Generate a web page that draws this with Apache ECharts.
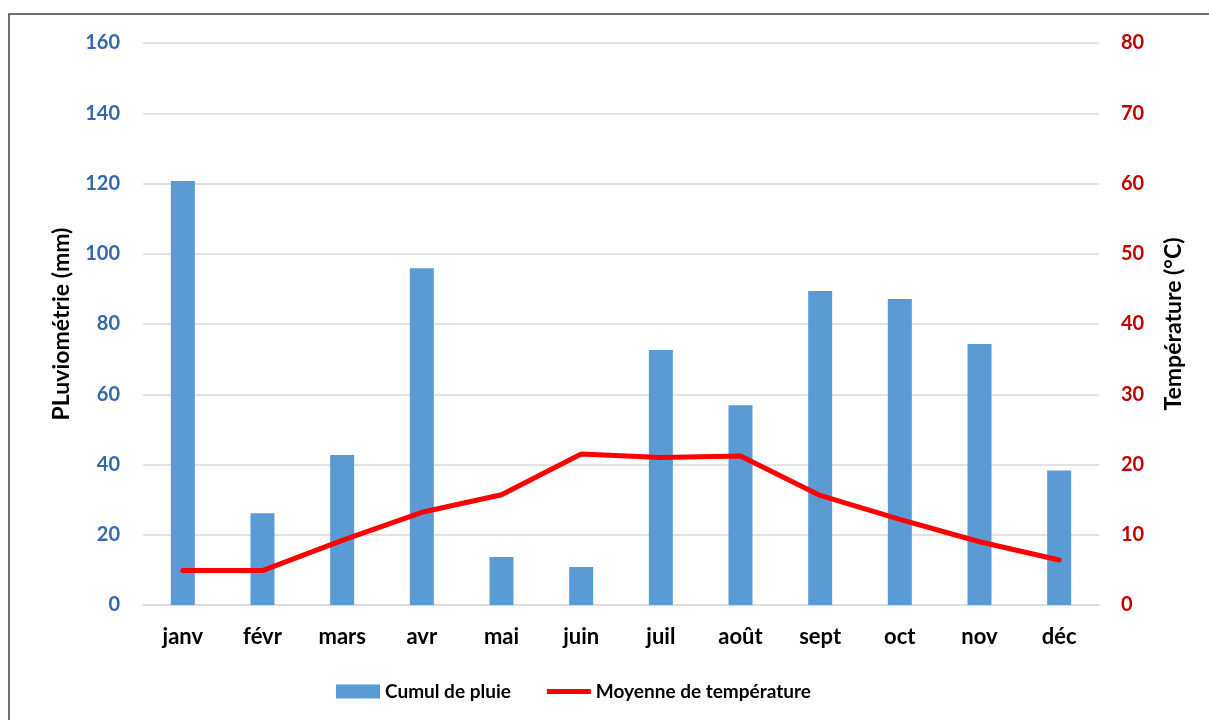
<!DOCTYPE html>
<html><head><meta charset="utf-8">
<script src="https://cdn.jsdelivr.net/npm/echarts@6/dist/echarts.min.js"></script>
<style>html,body{margin:0;padding:0;background:#fff}#c{width:1209px;height:720px}</style>
</head><body><div id="c"></div>
<script>
const categories = ['janv','févr','mars','avr','mai','juin','juil','août','sept','oct','nov','déc'];
const rainfall = [120.7, 26.1, 42.7, 95.9, 13.7, 10.8, 72.6, 56.9, 89.4, 87.1, 74.3, 38.3];
const temperature = [4.9, 4.9, 9.2, 13.2, 15.7, 21.5, 21.0, 21.2, 15.6, 12.2, 9.0, 6.4];
const leftTicks = {min: 0, max: 160, interval: 20};
const rightTicks = {min: 0, max: 80, interval: 10};

const FONT = 'Lato, "Open Sans", sans-serif';
const chart = echarts.init(document.getElementById('c'), null, {renderer: 'canvas'});
chart.setOption({
  animation: false,
  backgroundColor: '#fff',
  graphic: [{
    type: 'rect', shape: {x: 9, y: 14, width: 1220, height: 720},
    style: {fill: 'none', stroke: '#404040', lineWidth: 1.5}, silent: true, z: -1
  }],
  grid: {left: 143, right: 110, top: 43, bottom: 115},
  legend: {
    bottom: 14, left: 331, itemGap: 36, itemWidth: 44, itemHeight: 14,
    textStyle: {fontFamily: FONT, fontWeight: 'bold', fontSize: 19, color: '#000'},
    data: [
      {name: 'Cumul de pluie', icon: 'rect'},
      {name: 'Moyenne de température', icon: 'path://M0,0 L44,0 L44,5 L0,5 Z', itemStyle: {color: '#FF0000'}}
    ]
  },
  xAxis: {
    type: 'category', data: categories,
    axisLine: {show: true, lineStyle: {color: '#D9D9D9', width: 1.5}},
    axisTick: {show: false},
    axisLabel: {margin: 21, fontFamily: FONT, fontWeight: 'bold', fontSize: 22, color: '#000'}
  },
  yAxis: [{
    type: 'value', min: leftTicks.min, max: leftTicks.max, interval: leftTicks.interval,
    name: 'PLuviométrie (mm)', nameLocation: 'middle', nameGap: 70, nameRotate: 90,
    nameTextStyle: {fontFamily: FONT, fontWeight: 'bold', fontSize: 23, color: '#000'},
    axisLine: {show: false}, axisTick: {show: false},
    axisLabel: {margin: 23, fontFamily: FONT, fontWeight: 'bold', fontSize: 20, color: '#3669A8'},
    splitLine: {lineStyle: {color: '#D9D9D9', width: 1.5}}
  }, {
    type: 'value', min: rightTicks.min, max: rightTicks.max, interval: rightTicks.interval,
    name: 'Température (°C)', nameLocation: 'middle', nameGap: 63, nameRotate: 90,
    nameTextStyle: {fontFamily: FONT, fontWeight: 'bold', fontSize: 23, color: '#000'},
    axisLine: {show: false}, axisTick: {show: false},
    axisLabel: {margin: 22, fontFamily: FONT, fontWeight: 'bold', fontSize: 20, color: '#C00000'},
    splitLine: {show: false}
  }],
  series: [{
    name: 'Cumul de pluie', type: 'bar', data: rainfall, yAxisIndex: 0,
    barWidth: 24, itemStyle: {color: '#5B9BD5'}
  }, {
    name: 'Moyenne de température', type: 'line', data: temperature, yAxisIndex: 1,
    symbol: 'none', lineStyle: {color: '#FF0000', width: 5, cap: 'round', join: 'round'},
    itemStyle: {color: '#FF0000'}
  }]
});
</script></body></html>
